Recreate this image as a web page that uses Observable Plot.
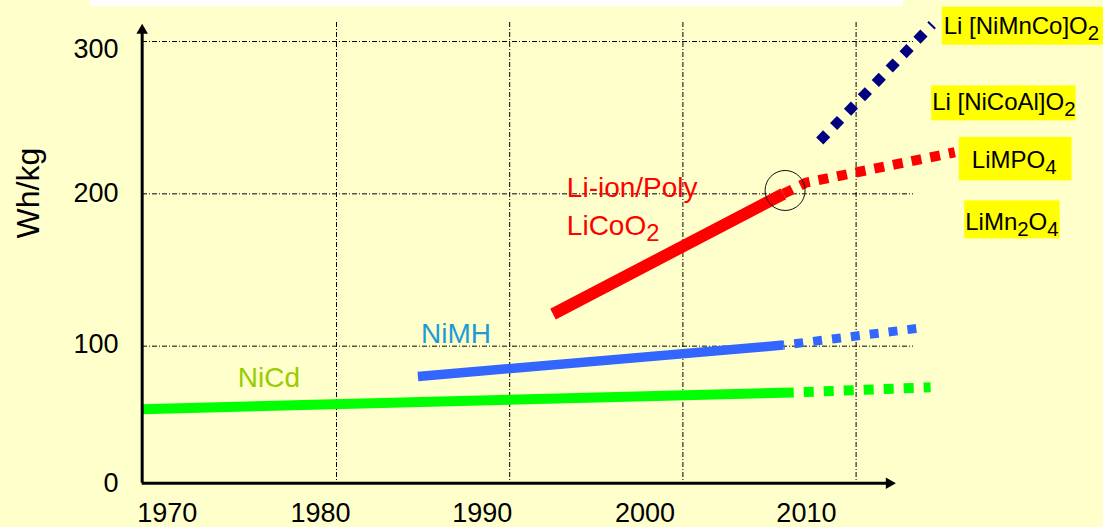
<!DOCTYPE html>
<html><head><meta charset="utf-8">
<script src="https://cdn.jsdelivr.net/npm/d3@7"></script>
<script src="https://cdn.jsdelivr.net/npm/@observablehq/plot@0.6"></script>
<style>
html,body{margin:0;padding:0;background:#FFFFCC;}
#wrap{position:relative;width:1103px;height:527px;overflow:hidden;background:#FFFFCC;}
#titlebox{position:absolute;left:90px;top:0;width:813px;height:6px;background:#ffffff;z-index:2;}
#wrap svg{display:block;position:absolute;left:0;top:0;}
</style></head><body><div id="wrap"><div id="titlebox"></div></div>
<script>
// ---- data (years, Wh/kg) ----
const nicdYears = [1968.8, 2006.4];
const nicdWh = [58.6, 69.6];
const nicdProjYears = [2006.4, 2014.3];
const nicdProjWh = [69.6, 73.0];

const nimhYears = [1984.7, 2005.8];
const nimhWh = [80.1, 100.7];
const nimhProjYears = [2005.8, 2013.7];
const nimhProjWh = [100.7, 111.9];

const liionYears = [1992.5, 2005.8];
const liionWh = [121, 200];
const liionProjYears = [2005.8, 2007.1, 2015.7];
const liionProjWh = [200, 207.3, 227.3];

const nmcProjYears = [2007.9, 2014.4];
const nmcProjWh = [234.7, 311.2];

const gridYears = [1980, 1990, 2000, 2010];
const gridWh = [100, 200, 300];
const xTickLabels = ["1970", "1980", "1990", "2000", "2010"];
const xTickAt = [1970.23, 1979.08, 1988.41, 1997.81, 2007.13];
const yTickLabels = ["0", "100", "200", "300"];
const yTickAt = [10, 101, 200, 294.6];
const axisOrigin = [1968.78, 10];
const axisEnd = [2011.91, 307.3];
const transition = [2005.9, 202.2];

const seriesLabels = ["NiCd", "NiMH"];
const seriesLabelYears = [1976.1, 1986.9];
const seriesLabelWh = [73.1, 102.4];
const liLabels = ["Li-ion/Poly", "LiCoO_2"];
const liLabelYears = [1993.3, 1993.3];
const liLabelWh = [197.8, 173.3];
const chemLabels = ["Li [NiMnCo]O_2", "Li [NiCoAl]O_2", "LiMPO_4", "LiMn_2O_4"];
const chemLabelYears = [2015.06, 2014.39, 2016.68, 2016.30];
const chemLabelWh = [305.1, 254.8, 216.7, 176.0];

// ---- styles ----
const chemBoxPad = [[2, 40, 5, 1], [1, 0, 3, 0], [13, 15, 9.5, 2], [1, 1, 8, -2]]; // left,right,top,bottom
const FONT = "'Liberation Sans', Arial, Helvetica, sans-serif";

const pts = (xs, ys) => xs.map((x, i) => ({x, y: ys[i]}));
const labs = (ts, xs, ys) => ts.map((t, i) => ({t, x: xs[i], y: ys[i]}));
const xLabelMap = new Map(xTickAt.map((v, i) => [v, xTickLabels[i]]));
const yLabelMap = new Map(yTickAt.map((v, i) => [v, yTickLabels[i]]));

const solid = (data, color, w) => Plot.line(data, {x: "x", y: "y", stroke: color, strokeWidth: w, strokeLinecap: "butt", strokeLinejoin: "miter"});
const dotted = (data, color, w, dash, off) => Plot.line(data, {x: "x", y: "y", stroke: color, strokeWidth: w, strokeLinecap: "butt", strokeLinejoin: "miter", strokeDasharray: dash, strokeDashoffset: off});

const chart = Plot.plot({
  width: 1103, height: 527,
  marginLeft: 142, marginRight: 190, marginTop: 22, marginBottom: 44,
  style: {background: "transparent", fontFamily: FONT, color: "black", overflow: "visible"},
  x: {domain: [1980, 2010], range: [336, 855.6]},
  y: {domain: [0, 300], range: [498, 41]},
  marks: [
    Plot.gridX(gridYears, {stroke: "black", strokeOpacity: 1, strokeWidth: 1, strokeDasharray: "5,2,1,2"}),
    Plot.gridY(gridWh, {stroke: "black", strokeOpacity: 1, strokeWidth: 1, strokeDasharray: "5,2,1,2"}),
    solid(pts(nicdYears, nicdWh), "#00FF00", 10),
    dotted(pts(nicdProjYears, nicdProjWh), "#00FF00", 10, "10,10", 10),
    solid(pts(nimhYears, nimhWh), "#3366FF", 9.5),
    dotted(pts(nimhProjYears, nimhProjWh), "#3366FF", 9, "9,10", 8),
    solid(pts(liionYears, liionWh), "#FF0000", 12),
    dotted(pts(liionProjYears, liionProjWh), "#FF0000", 10, "10,9", 0),
    dotted(pts(nmcProjYears, nmcProjWh), "#000080", 10, "10,10", 0),
    Plot.ruleX([axisOrigin[0]], {y1: axisOrigin[1], y2: axisEnd[1], stroke: "black", strokeWidth: 3}),
    Plot.ruleY([axisOrigin[1]], {x1: axisOrigin[0], x2: axisEnd[0], stroke: "black", strokeWidth: 3}),
    Plot.dot([0], {x: () => axisOrigin[0], y: () => axisEnd[1], symbol: "triangle", r: 4.3, fill: "black", stroke: null}),
    Plot.dot([0], {x: () => axisEnd[0], y: () => axisOrigin[1], symbol: "triangle", r: 4.3, fill: "black", stroke: null, rotate: 90}),
    Plot.dot([transition], {x: d => d[0], y: d => d[1], r: 20, stroke: "#111", strokeWidth: 1, fill: "none"}),
    Plot.axisX({ticks: xTickAt, tickFormat: d => xLabelMap.get(d), tickSize: 0, tickPadding: 19.5, fontSize: 27, label: null}),
    Plot.axisY({ticks: yTickAt, tickFormat: d => yLabelMap.get(d), tickSize: 0, tickPadding: 24, fontSize: 27, label: null}),
    Plot.text(["Wh/kg"], {text: d => d, frameAnchor: "left", rotate: -90, dx: -113.7, dy: -14.5, fontSize: 32, fill: "black"}),
    Plot.text(labs(seriesLabels, seriesLabelYears, seriesLabelWh).slice(0, 1), {x: "x", y: "y", text: "t", fill: "#99CC00", fontSize: 28, lineAnchor: "bottom", textAnchor: "middle"}),
    Plot.text(labs(seriesLabels, seriesLabelYears, seriesLabelWh).slice(1, 2), {x: "x", y: "y", text: "t", fill: "#1E9BD7", fontSize: 28, lineAnchor: "bottom", textAnchor: "middle"}),
    Plot.text(labs(liLabels, liLabelYears, liLabelWh), {x: "x", y: "y", text: "t", fill: "#FF0000", fontSize: 28, lineAnchor: "bottom", textAnchor: "start"}),
    Plot.text(labs(chemLabels, chemLabelYears, chemLabelWh), {x: "x", y: "y", text: "t", fill: "black", fontSize: 24, lineAnchor: "bottom", textAnchor: "start"})
  ]
});
document.getElementById("wrap").appendChild(chart);

// subscripts and yellow label boxes
const NS = "http://www.w3.org/2000/svg";
chart.querySelectorAll("text").forEach(t => {
  const raw = t.textContent;
  if (!/_\d/.test(raw)) return;
  const chemIndex = chemLabels.indexOf(raw);
  while (t.firstChild) t.removeChild(t.firstChild);
  const parts = raw.split(/_(\d)/);
  let shifted = false;
  parts.forEach((p, k) => {
    if (!p) return;
    const ts = document.createElementNS(NS, "tspan");
    ts.textContent = p;
    if (k % 2 === 1) {
      ts.style.fontSize = "85%";
      ts.setAttribute("dy", "6");
      shifted = true;
    } else if (shifted) {
      ts.setAttribute("dy", "-6");
      shifted = false;
    }
    t.appendChild(ts);
  });
  if (chemIndex >= 0) {
    const b = t.getBBox();
    const p = chemBoxPad[chemIndex];
    const r = document.createElementNS(NS, "rect");
    r.setAttribute("x", b.x - p[0]);
    r.setAttribute("y", b.y - p[2]);
    r.setAttribute("width", b.width + p[0] + p[1]);
    r.setAttribute("height", b.height + p[2] + p[3]);
    r.setAttribute("fill", "#FFFF00");
    r.setAttribute("stroke", "none");
    if (t.getAttribute("transform")) r.setAttribute("transform", t.getAttribute("transform"));
    t.parentNode.insertBefore(r, t);
  }
});
</script></body></html>
